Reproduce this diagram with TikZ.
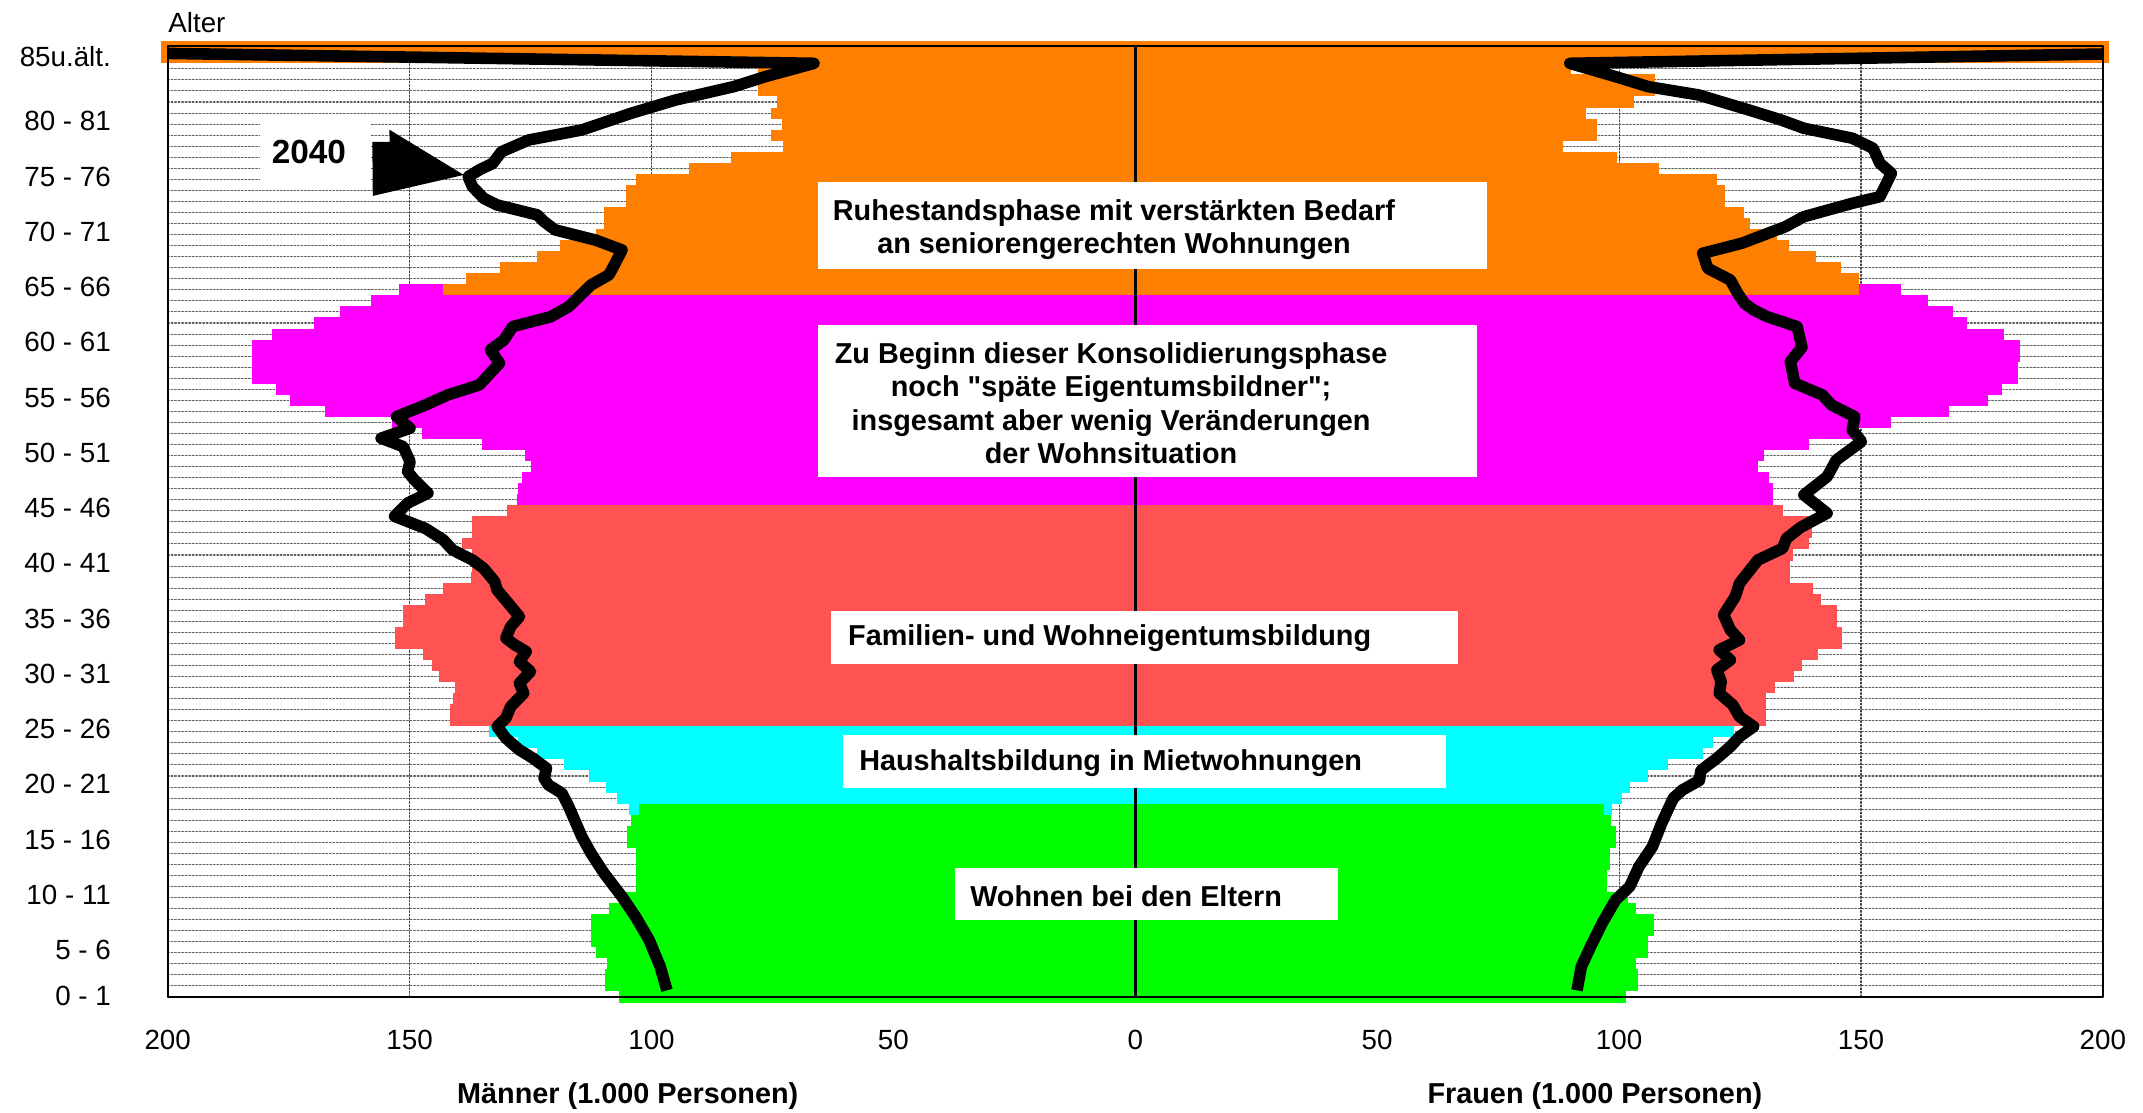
\documentclass[tikz,border=0pt]{standalone}
\usepackage{fontspec}
\setmainfont{Liberation Sans}
\newfontfamily\plainq{Liberation Sans}
\usetikzlibrary{arrows}
\usetikzlibrary{calc}
\usetikzlibrary{positioning}

\definecolor{pyrorange}{RGB}{255,128,0}
\definecolor{pyrmagenta}{RGB}{255,0,255}
\definecolor{pyrred}{RGB}{255,83,83}
\definecolor{pyrcyan}{RGB}{0,255,255}
\definecolor{pyrgreen}{RGB}{0,255,0}

\tikzset{
  lbl/.style={font=\fontsize{7.9}{9.5}\selectfont},
  agelbl/.style={lbl,anchor=east,inner sep=0pt},
  axtitle/.style={font=\fontsize{8.2}{9.5}\selectfont\bfseries},
  boxtxt/.style={font=\fontsize{8.2}{9.4}\selectfont\bfseries,align=center},
  hgrid/.style={gray!75!black,line width=0.3pt,dash pattern=on 0.5pt off 0.5pt},
  vgrid/.style={black!75,line width=0.3pt,dash pattern=on 0.5pt off 0.5pt},
  proj/.style={line width=3.3pt,line cap=butt,line join=round}
}

\begin{document}
\begin{tikzpicture}[line cap=round,line join=round,x=0.04838cm,y=0.1105cm]
      \useasboundingbox (-234.66,-10.0) rectangle (208.29,90.73);
      % gridlines
      \foreach \k in {0,...,84}
        \draw[hgrid] (-200,\k+0.5) -- (200,\k+0.5);
      \foreach \v in {-150,-100,-50,50,100,150}
        \draw[vgrid] (\v,0.53) -- (\v,86.55);
      % bars: age / men / women
      \foreach \k/\m/\w in {0/106.7/101.4,1/109.7/103.9,2/109.7/103.9,3/109.1/103.4,4/111.4/106.0,5/112.5/106.0,6/112.5/107.2,7/112.5/107.2,8/108.8/103.4,9/106.8/101.9,10/103.1/97.4,11/103.1/97.4,12/103.3/98.1,13/103.3/98.1,14/105.1/99.3,15/105.1/99.3,16/104.2/98.4}
        \fill[pyrgreen] (-\m,\k) rectangle (\w,\k+1);
      \foreach \k/\m/\w in {17/104.7/98.6,18/107.2/100.6,19/109.3/102.2,20/113.0/106.0,21/118.1/110.2,22/123.6/117.3,23/127.5/119.4,24/133.5/123.8}
        \fill[pyrcyan] (-\m,\k) rectangle (\w,\k+1);
      \fill[pyrgreen] (-102.6,17) rectangle (96.9,18);
      \foreach \k/\m/\w in {25/141.6/130.4,26/141.6/130.4,27/141.1/130.4,28/140.7/132.3,29/144.0/136.1,30/145.3/137.9,31/147.3/141.1,32/153.1/146.0,33/153.1/146.0,34/151.3/145.0,35/151.3/145.0,36/146.9/141.8,37/143.0/140.1,38/137.3/135.4,39/137.0/135.4,40/137.0/135.9,41/139.1/139.2,42/137.0/139.9,43/137.0/140.1,44/129.9/133.9}
        \fill[pyrred] (-\m,\k) rectangle (\w,\k+1);
      \foreach \k/\m/\w in {45/127.8/131.9,46/127.5/131.9,47/126.8/130.9,48/125.0/128.7,49/126.2/130.0,50/135.1/139.2,51/147.4/149.6,52/153.6/156.1,53/167.4/168.1,54/174.8/176.2,55/177.6/179.2,56/182.6/182.5,57/182.6/182.5,58/182.6/182.8,59/182.6/182.8,60/178.5/179.5,61/169.7/171.9,62/164.4/169.0,63/158.0/163.8,64/152.2/158.2}
        \fill[pyrmagenta] (-\m,\k) rectangle (\w,\k+1);
      \foreach \k/\m/\w in {64/143.0/149.6,65/138.4/149.6,66/131.4/145.8,67/123.6/140.6,68/119.0/135.2,69/111.4/132.7,70/109.8/127.1,71/109.8/125.9,72/105.3/121.9,73/105.3/121.9,74/103.3/120.2,75/92.2/108.3,76/83.5/99.5,77/72.8/88.4,78/75.3/95.5,79/73.0/95.5,80/75.2/93.2,81/74.0/103.1,82/78.0/107.4,83/78.4/107.4,84/78.0/90.0}
        \fill[pyrorange] (-\m,\k) rectangle (\w,\k+1);
      % 85 u. aelter
      \fill[pyrorange] (-201.4,85) rectangle (201.2,87.0);
      % frame and centre line
      \draw[line width=0.6pt] (-200,0.53) rectangle (200,86.55);
      \draw[line width=0.8pt] (0,0.53) -- (0,86.55);
      % text boxes
      \fill[white] (-65.5,66.37) rectangle (72.7,74.28);
      \fill[white] (-65.5,47.57) rectangle (70.7,61.32);
      \fill[white] (-62.9,30.64) rectangle (66.7,35.44);
      \fill[white] (-60.4,19.38) rectangle (64.3,24.22);
      \fill[white] (-37.3,7.48) rectangle (41.9,12.18);
      \node[boxtxt] (ruhe) at (-4.4,69.96) {Ruhestandsphase mit verstärkten Bedarf\\an seniorengerechten Wohnungen};
      \node[boxtxt] (konsol) at (-5.0,54.24) {Zu Beginn dieser Konsolidierungsphase\\noch {\plainq"}späte Eigentumsbildner{\plainq"};\\insgesamt aber wenig Veränderungen\\der Wohnsituation};
      \node[boxtxt] (familie) at (-5.3,33.0) {Familien- und Wohneigentumsbildung};
      \node[boxtxt] (haushalt) at (-5.1,21.7) {Haushaltsbildung in Mietwohnungen};
      \node[boxtxt] (eltern) at (-1.9,9.6) {Wohnen bei den Eltern};
      % projection 2040
      \begin{scope}
        \clip (-200,-1) rectangle (200,86.7);
        \draw[proj] plot coordinates {(-96.8,1.1) (-98.2,3.25) (-100.5,5.67) (-103.3,7.77) (-106.1,9.58) (-109.8,11.7) (-112.5,13.51) (-114.4,15.01) (-117.1,17.73) (-118.5,18.94) (-121.3,19.69) (-122.2,20.3) (-121.7,21.2) (-124.5,22.11) (-127.3,22.86) (-130.1,23.92) (-131.9,24.97) (-130.1,25.73) (-129.1,26.78) (-126.4,27.99) (-127.3,28.9) (-125.0,29.95) (-127.3,30.85) (-125.9,31.76) (-128.2,32.36) (-130.1,32.97) (-129.1,34.02) (-127.3,34.92) (-129.6,36.14) (-131.9,37.34) (-132.4,38.09) (-134.7,39.3) (-137.0,40.05) (-141.1,40.96) (-143.0,41.86) (-146.7,42.9) (-153.1,44.0) (-150.4,45.2) (-146.2,46.1) (-149.0,47.3) (-150.4,48.05) (-149.9,48.95) (-151.3,50.31) (-155.9,51.07) (-149.9,51.97) (-152.7,53.02) (-146.7,54.08) (-142.1,54.99) (-135.6,55.89) (-131.4,57.86) (-133.3,59.06) (-130.5,59.96) (-128.7,61.17) (-120.8,62.07) (-117.1,62.98) (-112.5,64.94) (-108.8,65.85) (-107.5,66.9) (-106.1,68.11) (-111.6,69.01) (-119.9,69.92) (-122.2,70.67) (-123.6,71.28) (-131.9,72.18) (-134.7,72.79) (-137.0,73.84) (-137.9,74.74) (-135.6,75.35) (-132.8,75.95) (-131.0,77.0) (-125.4,78.06) (-114.4,78.97) (-104.2,80.48) (-95.0,81.68) (-83.0,82.89) (-76.5,83.79) (-66.4,85.0) (-260,86.3)};
        \draw[proj] plot coordinates {(91.3,1.1) (92.2,3.25) (94.1,5.06) (96.5,7.18) (99.3,9.29) (102.2,10.49) (104.1,12.3) (106.9,14.11) (108.8,16.23) (111.2,18.49) (113.1,19.24) (116.6,20.1) (116.9,21.0) (120.2,22.1) (123.0,23.16) (124.9,24.06) (127.8,24.97) (124.9,25.87) (123.5,26.93) (120.7,27.99) (121.1,29.04) (120.2,30.1) (123.0,31.0) (120.7,31.91) (124.9,32.81) (123.0,33.72) (121.6,35.08) (124.0,36.73) (124.9,37.95) (128.7,40.05) (133.8,41.1) (134.6,42.0) (137.5,43.0) (143.0,44.28) (138.2,45.94) (143.0,47.59) (144.9,49.1) (150.1,50.76) (148.2,51.82) (148.7,53.02) (143.9,54.08) (142.0,54.99) (136.3,56.05) (135.4,58.0) (137.8,59.3) (136.8,61.17) (130.6,62.07) (127.8,62.68) (125.9,63.28) (124.5,64.19) (123.0,65.39) (118.3,66.45) (117.3,67.81) (125.4,68.72) (134.4,70.22) (138.2,71.12) (148.2,72.33) (153.9,72.93) (156.3,75.05) (153.9,75.95) (152.5,77.31) (148.2,78.22) (138.2,79.12) (133.5,79.87) (126.8,80.78) (116.4,82.14) (106.0,82.89) (99.3,83.79) (89.8,85.0) (260,86.3)};
      \end{scope}
      % 2040 marker
      \fill[white] (-181,74.4) rectangle (-158,79.7);
      \node[font=\fontsize{9.5}{11}\selectfont\bfseries] (jahr) at (-170.8,77.0) {2040};
      \fill (-157.7,77.9) -- (-154.1,77.9) -- (-154.2,79.0) -- (-138.8,74.9) -- (-157.6,73.0) -- cycle;
      % axis labels
      \node[lbl,anchor=west,inner sep=0pt] (alter) at (-200,88.7) {Alter};
      \node[agelbl] (age85) at (-211.6,85.6) {85u.ält.};
      \foreach \a [evaluate=\a as \b using int(\a+1)] in {5,10,...,80}
        \node[agelbl] (age\a) at (-211.6,\a-0.26) {\a\ - \b};
      \node[agelbl] (age0) at (-211.6,0.6) {0 - 1};
      \foreach \v/\t/\n in {-200/200/a,-150/150/b,-100/100/c,-50/50/d,0/0/e,50/50/f,100/100/g,150/150/h,200/200/i}
        \node[lbl] (tick\n) at (\v,-3.39) {\t};
      \node[axtitle] (maenner) at (-104.9,-8.5) {Männer (1.000 Personen)};
      \node[axtitle] (frauen) at (95.0,-8.5) {Frauen (1.000 Personen)};
    \end{tikzpicture}
\end{document}
